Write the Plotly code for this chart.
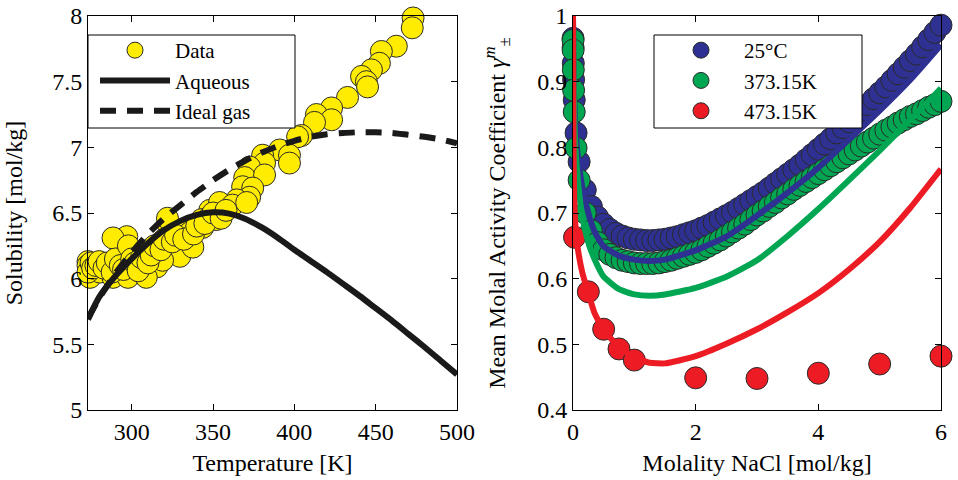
import plotly.graph_objects as go

# ---------------- Left panel: solubility vs temperature ----------------
data_T = [473.0, 472.5, 462.7, 453.5, 452.3, 447.4, 441.3, 444.3, 445.0, 432.7,
          422.9, 413.6, 422.9, 412.4, 404.4, 402.0, 391.0, 397.0, 397.0, 380.5,
          381.7, 372.5, 369.5, 381.7, 368.2, 374.4, 372.5, 364.6, 356.0, 348.0,
          352.3, 343.0, 322.2, 335.7, 329.6, 297.0, 288.5,
          273.15, 274.4, 280.5, 291.0, 288.5, 297.7, 299.0, 307.0, 305.0, 311.0,
          315.5, 317.3, 322.0, 323.5, 329.6, 329.6, 335.7, 337.6, 343.7, 348.0,
          352.0, 354.0, 362.0, 370.7, 319.0, 309.0,
          273.15, 273.15, 275.0, 276.0, 278.0, 280.0, 283.0, 285.0, 288.0, 290.0,
          293.0, 295.0, 298.0, 300.0, 302.0, 304.0, 306.0, 310.0, 312.0, 314.0,
          318.0, 320.0, 325.0, 327.0, 332.0, 338.0, 340.0, 345.0, 350.0, 355.0, 358.0]
data_S = [7.985, 7.91, 7.77, 7.73, 7.64, 7.59, 7.54, 7.50, 7.46, 7.38,
          7.30, 7.25, 7.21, 7.19, 7.09, 7.08, 6.98, 6.94, 6.88, 6.94,
          6.88, 6.85, 6.77, 6.79, 6.70, 6.69, 6.62, 6.60, 6.55, 6.52,
          6.47, 6.45, 6.42, 6.39, 6.37, 6.32, 6.31,
          6.13, 6.01, 6.05, 6.12, 6.01, 6.01, 6.09, 6.12, 6.20, 6.22,
          6.09, 6.27, 6.46, 6.22, 6.29, 6.17, 6.35, 6.24, 6.39, 6.47,
          6.45, 6.58, 6.56, 6.58, 6.14, 6.01,
          6.10, 6.05, 6.12, 6.08, 6.10, 6.13, 6.08, 6.12, 6.05, 6.15,
          6.10, 6.07, 6.25, 6.15, 6.12, 6.06, 6.16, 6.12, 6.18, 6.25,
          6.22, 6.30, 6.28, 6.33, 6.30, 6.34, 6.40, 6.42, 6.50, 6.46, 6.52]

model_T = [273.15, 280, 290, 300, 310, 320, 330, 340, 350, 360, 370, 380, 390,
           400, 410, 420, 430, 440, 450, 460, 470, 480, 490, 500]
aqueous_S = [5.69, 5.86, 6.02, 6.15, 6.27, 6.37, 6.44, 6.485, 6.505, 6.495, 6.455,
             6.39, 6.31, 6.22, 6.135, 6.05, 5.96, 5.87, 5.775, 5.68, 5.58, 5.48,
             5.375, 5.27]
idealgas_S = [5.70, 5.85, 6.04, 6.20, 6.34, 6.46, 6.56, 6.66, 6.75, 6.83, 6.90,
              6.96, 7.01, 7.05, 7.08, 7.10, 7.11, 7.115, 7.115, 7.11, 7.095,
              7.08, 7.06, 7.03]

# ---------------- Right panel: activity coefficient vs molality ----------------
m_low = [0.001, 0.002, 0.005, 0.01, 0.02, 0.05]
m_grid = [0.1, 0.2, 0.3, 0.4, 0.5, 0.6, 0.7, 0.8, 0.9, 1.0, 1.1, 1.2, 1.3, 1.4, 1.5,
          1.6, 1.7, 1.8, 1.9, 2.0, 2.1, 2.2, 2.3, 2.4, 2.5, 2.6, 2.7, 2.8, 2.9, 3.0,
          3.1, 3.2, 3.3, 3.4, 3.5, 3.6, 3.7, 3.8, 3.9, 4.0, 4.1, 4.2, 4.3, 4.4, 4.5,
          4.6, 4.7, 4.8, 4.9, 5.0, 5.1, 5.2, 5.3, 5.4, 5.5, 5.6, 5.7, 5.8, 5.9, 6.0]

g25_low = [0.966, 0.952, 0.928, 0.903, 0.872, 0.822]
g25 = [0.778, 0.735, 0.710, 0.694, 0.683, 0.675, 0.669, 0.665, 0.662, 0.660,
       0.659, 0.658, 0.658, 0.659, 0.660, 0.662, 0.664, 0.667, 0.670, 0.673,
       0.677, 0.681, 0.686, 0.691, 0.696, 0.701, 0.707, 0.713, 0.719, 0.725,
       0.731, 0.738, 0.745, 0.752, 0.759, 0.766, 0.773, 0.781, 0.789, 0.797,
       0.805, 0.813, 0.822, 0.830, 0.839, 0.847, 0.856, 0.865, 0.874, 0.883,
       0.892, 0.902, 0.912, 0.922, 0.932, 0.942, 0.953, 0.964, 0.975, 0.986]

g373_low = [0.963, 0.948, 0.918, 0.887, 0.854, 0.799]
g373 = [0.750, 0.700, 0.673, 0.655, 0.644, 0.637, 0.632, 0.628, 0.626, 0.624,
        0.623, 0.623, 0.623, 0.624, 0.626, 0.628, 0.631, 0.634, 0.637, 0.640,
        0.644, 0.649, 0.654, 0.659, 0.665, 0.671, 0.677, 0.683, 0.690, 0.697,
        0.703, 0.710, 0.716, 0.723, 0.729, 0.736, 0.742, 0.748, 0.754, 0.760,
        0.766, 0.772, 0.778, 0.784, 0.790, 0.796, 0.802, 0.808, 0.814, 0.820,
        0.826, 0.831, 0.837, 0.842, 0.847, 0.851, 0.856, 0.861, 0.865, 0.870]

m_473 = [0.025, 0.25, 0.5, 0.75, 1.0, 2.0, 3.0, 4.0, 5.0, 6.0]
g473 = [0.663, 0.580, 0.523, 0.493, 0.476, 0.449, 0.448, 0.456, 0.470, 0.482]

m_fit = [0.0, 0.005, 0.01, 0.02, 0.04, 0.08, 0.15, 0.25, 0.35, 0.5, 0.75, 1.0, 1.25,
         1.5, 2.0, 2.5, 3.0, 3.5, 4.0, 4.5, 5.0, 5.5, 6.0]
fit25 = [1.0, 0.94, 0.91, 0.87, 0.83, 0.785, 0.74, 0.70, 0.672, 0.649, 0.635, 0.629,
         0.627, 0.629, 0.643, 0.664, 0.696, 0.731, 0.769, 0.812, 0.856, 0.903, 0.956]
fit373 = [1.0, 0.93, 0.90, 0.85, 0.80, 0.75, 0.695, 0.655, 0.630, 0.603, 0.584, 0.576,
          0.574, 0.576, 0.586, 0.603, 0.628, 0.665, 0.706, 0.750, 0.795, 0.842, 0.890]
fit473 = [1.0, 0.86, 0.79, 0.72, 0.68, 0.645, 0.61, 0.578, 0.548, 0.522, 0.496, 0.480,
          0.472, 0.471, 0.482, 0.501, 0.523, 0.549, 0.578, 0.614, 0.656, 0.708, 0.767]

YELLOW = "#FFEC00"
BLUE = "#2E3192"
GREEN = "#00A651"
RED = "#ED1C24"
EDGE = "#2a2a2a"
FONT = "Liberation Serif"
FS = 24
W, H = 958, 480

fig = go.Figure()

# left panel
fig.add_trace(go.Scatter(x=data_T, y=data_S, mode="markers", name="Data",
                         marker=dict(size=22, color=YELLOW, line=dict(color=EDGE, width=1)),
                         cliponaxis=False, xaxis="x", yaxis="y", legend="legend"))
fig.add_trace(go.Scatter(x=model_T, y=aqueous_S, mode="lines", name="Aqueous",
                         line=dict(color="#1a1a1a", width=6, shape="spline", smoothing=0.6),
                         xaxis="x", yaxis="y", legend="legend"))
fig.add_trace(go.Scatter(x=model_T, y=idealgas_S, mode="lines", name="Ideal gas",
                         line=dict(color="#1a1a1a", width=6, dash="16px,11px", shape="spline", smoothing=0.6),
                         xaxis="x", yaxis="y", legend="legend"))

# right panel markers
for mx, gy, col, nm in [(m_low + m_grid, g25_low + g25, BLUE, "25°C"),
                        (m_low + m_grid, g373_low + g373, GREEN, "373.15K"),
                        (m_473, g473, RED, "473.15K")]:
    fig.add_trace(go.Scatter(x=mx, y=gy, mode="markers", name=nm,
                             marker=dict(size=22, color=col, line=dict(color=EDGE, width=1)),
                             cliponaxis=False, xaxis="x2", yaxis="y2", legend="legend2"))
# right panel fitted lines
for fy, col in [(fit25, BLUE), (fit373, GREEN), (fit473, RED)]:
    fig.add_trace(go.Scatter(x=m_fit, y=fy, mode="lines", showlegend=False,
                             line=dict(color=col, width=6, shape="spline", smoothing=0.5),
                             xaxis="x2", yaxis="y2"))

axis_common = dict(showline=True, linecolor="black", linewidth=1, mirror="ticks",
                   ticks="inside", ticklen=6, tickcolor="black", showgrid=False,
                   zeroline=False, automargin=False,
                   tickfont=dict(family=FONT, size=FS, color="black"),
                   title_font=dict(family=FONT, size=FS, color="black"))

legend_common = dict(xanchor="left", yanchor="top",
                     bgcolor="rgba(0,0,0,0)", borderwidth=0,
                     font=dict(family=FONT, size=21, color="black"),
                     tracegroupgap=0)

# legend frames (white boxes with black border behind the legends)
frames = [(88, 295, 35, 128), (654, 862, 35, 128)]
shapes = [dict(type="rect", xref="paper", yref="paper",
               x0=x0 / W, x1=x1 / W, y0=1 - y1 / H, y1=1 - y0 / H,
               fillcolor="white", line=dict(color="black", width=1), layer="above")
          for x0, x1, y0, y1 in frames]

fig.update_layout(
    width=W, height=H,
    margin=dict(l=0, r=0, t=0, b=0),
    paper_bgcolor="white", plot_bgcolor="white",
    font=dict(family=FONT, size=FS, color="black"),
    shapes=shapes,
    xaxis=dict(domain=[88/W, 457/W], range=[273.15, 500],
               tickvals=[300, 350, 400, 450, 500], anchor="y",
               title=dict(text="Temperature [K]", standoff=10), **axis_common),
    yaxis=dict(domain=[70/H, 464/H], range=[5, 8],
               tickvals=[5, 5.5, 6, 6.5, 7, 7.5, 8],
               ticktext=["5", "5.5", "6", "6.5", "7", "7.5", "8"], anchor="x",
               title=dict(text="Solubility [mol/kg]", standoff=22), **axis_common),
    xaxis2=dict(domain=[573/W, 941/W], range=[0, 6],
                tickvals=[0, 2, 4, 6], anchor="y2",
                title=dict(text="Molality NaCl [mol/kg]", standoff=10), **axis_common),
    yaxis2=dict(domain=[70/H, 464/H], range=[0.4, 1.0],
                tickvals=[0.4, 0.5, 0.6, 0.7, 0.8, 0.9, 1.0],
                ticktext=["0.4", "0.5", "0.6", "0.7", "0.8", "0.9", "1"], anchor="x2",
                title=dict(text="Mean Molal Activity Coefficient <i>γ</i><sup><i>m</i></sup><sub>±</sub>",
                           standoff=24), **axis_common),
    legend=dict(x=95/W, y=1 - 30/H, itemwidth=70, **legend_common),
    legend2=dict(x=658/W, y=1 - 30/H, itemwidth=76, **legend_common),
)

fig.write_html("out.html", config={"displayModeBar": False},
               post_script="document.body.style.margin='0px';")
